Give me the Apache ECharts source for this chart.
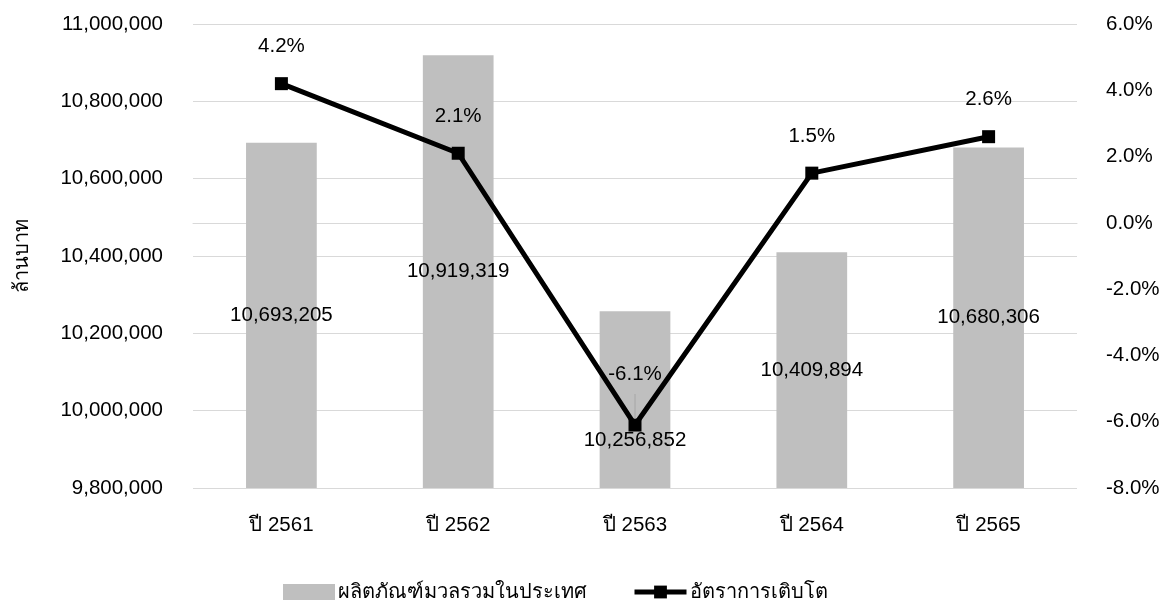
<!DOCTYPE html>
<html>
<head>
<meta charset="utf-8">
<script src="https://cdn.jsdelivr.net/npm/echarts@6/dist/echarts.min.js"></script>
<style>
  html, body { margin: 0; padding: 0; background: #ffffff; }
  #chart { width: 1169px; height: 602px; }
</style>
</head>
<body>
<div id="chart"></div>
<script>
// Gross domestic product (million baht) and growth rate, by Thai year
const years = ['ปี 2561', 'ปี 2562', 'ปี 2563', 'ปี 2564', 'ปี 2565'];
const gdpValues = [10693205, 10919319, 10256852, 10409894, 10680306];
const growthRates = [4.2, 2.1, -6.1, 1.5, 2.6];

const gdpName = 'ผลิตภัณฑ์มวลรวมในประเทศ';
const growthName = 'อัตราการเติบโต';
const leftAxisName = 'ล้านบาท';

const FONT = 'Arial, "Liberation Sans", "Noto Sans", sans-serif';
const TEXT = '#000000';
const NUM_SIZE = 20.5;
const fmtInt = v => Math.round(v).toLocaleString('en-US');

const chart = echarts.init(document.getElementById('chart'), null, { renderer: 'canvas' });

// The 2563 labels are nudged apart so they do not sit on the dip of the line
const dipIndex = 2;
const barData = gdpValues.map((v, i) => i === dipIndex
  ? { value: v, label: { offset: [0, 41] } }
  : v);

chart.setOption({
  animation: false,
  backgroundColor: '#ffffff',
  textStyle: { fontFamily: FONT, color: TEXT },
  grid: { left: 193, right: 92, top: 24, bottom: 114 },
  legend: {
    left: 283,
    bottom: 0,
    padding: 0,
    itemGap: 45,
    itemWidth: 52,
    itemHeight: 16,
    textStyle: { fontFamily: FONT, fontSize: 20, color: TEXT, padding: [0, 0, 0, -2] },
    data: [
      { name: gdpName, icon: 'rect' },
      { name: growthName, lineStyle: { width: 5, color: '#000000' } }
    ]
  },
  xAxis: {
    type: 'category',
    data: years,
    axisLine: { show: true, lineStyle: { color: '#d9d9d9', width: 1 } },
    axisTick: { show: false },
    axisLabel: { margin: 27, fontSize: NUM_SIZE, color: TEXT, fontFamily: FONT }
  },
  yAxis: [
    {
      type: 'value',
      min: 9800000,
      max: 11000000,
      interval: 200000,
      name: leftAxisName,
      nameLocation: 'middle',
      nameGap: 161,
      nameRotate: 90,
      nameTextStyle: { fontSize: 20, color: TEXT, fontFamily: FONT },
      axisLine: { show: false },
      axisTick: { show: false },
      axisLabel: { margin: 30, fontSize: NUM_SIZE, color: TEXT, fontFamily: FONT, formatter: fmtInt },
      splitLine: { show: true, lineStyle: { color: '#d9d9d9', width: 1 } }
    },
    {
      type: 'value',
      min: -8,
      max: 6,
      interval: 2,
      position: 'right',
      axisLine: { show: false },
      axisTick: { show: false },
      axisLabel: { margin: 29, fontSize: NUM_SIZE, color: TEXT, fontFamily: FONT,
        formatter: v => v.toFixed(1) + '%' },
      splitLine: { show: false }
    }
  ],
  series: [
    {
      name: gdpName,
      type: 'bar',
      yAxisIndex: 0,
      barWidth: '40%',
      data: barData,
      itemStyle: { color: '#bfbfbf' },
      label: {
        show: true,
        position: 'inside',
        fontSize: NUM_SIZE,
        color: TEXT,
        fontFamily: FONT,
        formatter: p => fmtInt(p.value)
      },
      z: 2
    },
    {
      name: growthName,
      type: 'line',
      yAxisIndex: 1,
      data: growthRates,
      symbol: 'rect',
      symbolSize: 13,
      lineStyle: { color: '#000000', width: 5 },
      itemStyle: { color: '#000000' },
      label: {
        show: true,
        position: 'top',
        distance: 20,
        fontSize: NUM_SIZE,
        color: TEXT,
        fontFamily: FONT,
        formatter: p => p.value.toFixed(1) + '%'
      },
      labelLayout: p => p.dataIndex === dipIndex ? { dy: -14 } : {},
      z: 3
    }
  ]
});

// Thin leader from the raised 2563 growth label down to its marker
const dip = chart.convertToPixel({ xAxisIndex: 0, yAxisIndex: 1 }, [dipIndex, growthRates[dipIndex]]);
chart.setOption({
  graphic: [{
    type: 'line',
    shape: { x1: dip[0], y1: dip[1] - 31, x2: dip[0], y2: dip[1] - 6 },
    style: { stroke: '#a6a6a6', lineWidth: 1 },
    z: 100
  }]
});
</script>
</body>
</html>
